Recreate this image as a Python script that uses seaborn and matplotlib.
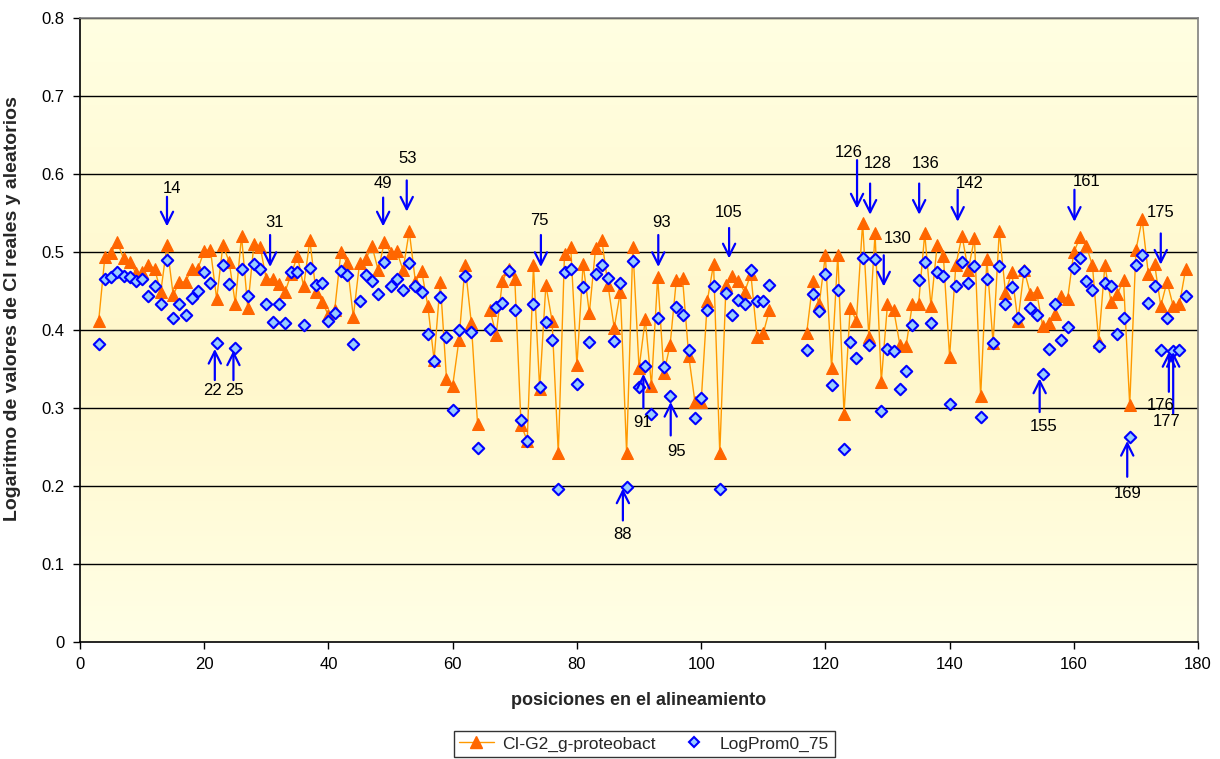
import numpy as np
import pandas as pd
import matplotlib
matplotlib.use("Agg")
import matplotlib.pyplot as plt
from matplotlib.lines import Line2D
from matplotlib.colors import LinearSegmentedColormap
import seaborn as sns

# ---------------- data ----------------
positions = [*range(3, 65), *range(66, 112), *range(117, 179)]

ci_g2 = [
    0.412, 0.494, 0.499, 0.513, 0.492, 0.488, 0.473, 0.474, 0.484, 0.479,  # 3-12
    0.449, 0.509, 0.445, 0.462, 0.462, 0.479, 0.479, 0.502, 0.503, 0.440,  # 13-22
    0.509, 0.488, 0.434, 0.521, 0.429, 0.511, 0.507, 0.465, 0.466, 0.459,  # 23-32
    0.449, 0.472, 0.495, 0.456, 0.515, 0.449, 0.436, 0.419, 0.426, 0.500,  # 33-42
    0.486, 0.417, 0.486, 0.491, 0.508, 0.477, 0.513, 0.499, 0.501, 0.477,  # 43-52
    0.527, 0.462, 0.476, 0.431, 0.362, 0.462, 0.338, 0.329, 0.387, 0.483,  # 53-62
    0.409, 0.280,                                                          # 63-64
    0.426, 0.394, 0.463, 0.479, 0.465, 0.279, 0.258, 0.483, 0.325, 0.458,  # 66-75
    0.412, 0.242, 0.498, 0.507, 0.355, 0.485, 0.422, 0.505, 0.516, 0.458,  # 76-85
    0.403, 0.449, 0.242, 0.507, 0.351, 0.414, 0.329, 0.468, 0.345, 0.381,  # 86-95
    0.464, 0.467, 0.367, 0.308, 0.308, 0.438, 0.485, 0.242, 0.458, 0.470,  # 96-105
    0.463, 0.449, 0.472, 0.391, 0.396, 0.426,                              # 106-111
    0.397, 0.463, 0.433, 0.496, 0.351, 0.497, 0.293, 0.429, 0.412, 0.538,  # 117-126
    0.391, 0.524, 0.334, 0.433, 0.426, 0.381, 0.380, 0.433, 0.433, 0.524,  # 127-136
    0.431, 0.509, 0.495, 0.366, 0.483, 0.521, 0.477, 0.518, 0.315, 0.491,  # 137-146
    0.383, 0.527, 0.448, 0.474, 0.412, 0.477, 0.447, 0.449, 0.405, 0.409,  # 147-156
    0.421, 0.444, 0.440, 0.500, 0.519, 0.508, 0.483, 0.385, 0.483, 0.436,  # 157-166
    0.446, 0.464, 0.304, 0.503, 0.542, 0.472, 0.485, 0.431, 0.462, 0.431,  # 167-176
    0.433, 0.478,                                                          # 177-178
]

log_prom = [
    0.382, 0.466, 0.468, 0.475, 0.470, 0.468, 0.463, 0.465, 0.444, 0.456,  # 3-12
    0.434, 0.490, 0.415, 0.433, 0.420, 0.441, 0.450, 0.474, 0.460, 0.383,  # 13-22
    0.484, 0.459, 0.377, 0.479, 0.444, 0.485, 0.479, 0.433, 0.410, 0.433,  # 23-32
    0.409, 0.475, 0.474, 0.407, 0.480, 0.458, 0.461, 0.412, 0.422, 0.476,  # 33-42
    0.471, 0.382, 0.438, 0.471, 0.463, 0.447, 0.488, 0.456, 0.465, 0.452,  # 43-52
    0.486, 0.456, 0.449, 0.395, 0.361, 0.442, 0.391, 0.298, 0.400, 0.470,  # 53-62
    0.398, 0.249,                                                          # 63-64
    0.402, 0.430, 0.435, 0.476, 0.426, 0.285, 0.258, 0.433, 0.327, 0.410,  # 66-75
    0.388, 0.196, 0.475, 0.479, 0.331, 0.455, 0.385, 0.472, 0.484, 0.467,  # 76-85
    0.386, 0.460, 0.199, 0.489, 0.327, 0.354, 0.293, 0.415, 0.353, 0.316,  # 86-95
    0.430, 0.419, 0.374, 0.288, 0.313, 0.426, 0.457, 0.196, 0.448, 0.420,  # 96-105
    0.439, 0.433, 0.477, 0.437, 0.437, 0.458,                              # 106-111
    0.374, 0.447, 0.425, 0.472, 0.330, 0.452, 0.247, 0.385, 0.364, 0.493,  # 117-126
    0.381, 0.491, 0.296, 0.376, 0.373, 0.325, 0.347, 0.406, 0.464, 0.488,  # 127-136
    0.409, 0.474, 0.470, 0.305, 0.456, 0.488, 0.461, 0.482, 0.289, 0.466,  # 137-146
    0.384, 0.482, 0.433, 0.455, 0.415, 0.476, 0.429, 0.420, 0.344, 0.376,  # 147-156
    0.433, 0.387, 0.404, 0.480, 0.492, 0.463, 0.451, 0.380, 0.461, 0.456,  # 157-166
    0.395, 0.415, 0.263, 0.484, 0.497, 0.435, 0.456, 0.374, 0.415, 0.373,  # 167-176
    0.374, 0.444,                                                          # 177-178
]

series_names = ["CI-G2_g-proteobact", "LogProm0_75"]

# annotations: label, arrow x, tail y, head y, text x, text y
ann_labels = ["14", "31", "49", "53", "75", "93", "105", "126", "128", "130",
              "136", "142", "161", "175",
              "22", "25", "88", "91", "95", "155", "169", "176", "177"]
ann_arrow_x = [14.0, 30.6, 48.8, 52.6, 74.2, 93.1, 104.5, 125.1, 127.2, 129.4,
               135.1, 141.3, 160.1, 174.0,
               21.7, 24.7, 87.4, 90.7, 95.1, 154.5, 168.6, 175.3, 176.0]
ann_tail_y = [0.571, 0.522, 0.570, 0.592, 0.522, 0.522, 0.531, 0.618, 0.588, 0.496,
              0.588, 0.580, 0.580, 0.524,
              0.336, 0.336, 0.156, 0.300, 0.265, 0.295, 0.212, 0.321, 0.293]
ann_head_y = [0.533, 0.481, 0.533, 0.552, 0.481, 0.481, 0.492, 0.556, 0.548, 0.456,
              0.548, 0.539, 0.539, 0.484,
              0.376, 0.374, 0.197, 0.344, 0.308, 0.338, 0.258, 0.372, 0.372]
ann_text_x = [14.8, 31.4, 48.8, 52.8, 73.9, 93.6, 104.5, 123.7, 128.5, 131.7,
              136.1, 143.2, 162.0, 174.0,
              21.3, 24.8, 87.4, 90.5, 96.1, 155.1, 168.6, 173.9, 175.0]
ann_text_y = [0.582, 0.538, 0.588, 0.620, 0.541, 0.538, 0.551, 0.628, 0.614, 0.517,
              0.614, 0.588, 0.590, 0.551,
              0.323, 0.323, 0.138, 0.282, 0.244, 0.276, 0.190, 0.304, 0.283]

# ---------------- frame ----------------
pos_arr = np.array(positions)
seg = np.concatenate([[0], np.cumsum(np.diff(pos_arr) > 1)])
df = pd.DataFrame({"pos": positions, "ci": ci_g2, "lp": log_prom, "seg": seg})

sns.set_style("ticks")
plt.rcParams["font.family"] = ["Liberation Sans", "DejaVu Sans"]

fig = plt.figure(figsize=(12.2, 7.59), dpi=100)
ax = fig.add_axes([0.0656, 0.154, 0.9164, 0.822])

# background gradient
cmap = LinearSegmentedColormap.from_list(
    "bg", [(0.0, "#FFFFE6"), (0.45, "#FFF7CA"), (1.0, "#FFFFE2")])
grad = np.linspace(0, 1, 256).reshape(-1, 1)
ax.imshow(grad, extent=[0, 180, 0, 0.8], aspect="auto", cmap=cmap,
          origin="lower", zorder=0)

for yv in np.arange(0.1, 0.81, 0.1):
    ax.axhline(yv, color="black", lw=1.0, zorder=1)

sns.lineplot(data=df, x="pos", y="ci", units="seg", estimator=None, ax=ax,
             color="#FF9900", lw=1.0, marker="^", markersize=8.5,
             markerfacecolor="#FF6600", markeredgecolor="#FF6600",
             legend=False, zorder=3, sort=False)
sns.scatterplot(data=df, x="pos", y="lp", ax=ax, marker="D", s=34,
                color="#99CCFF", edgecolor="#0000FF", linewidth=1.5,
                legend=False, zorder=4)

for lab, ax_x, ty, hy, tx, tyy in zip(ann_labels, ann_arrow_x, ann_tail_y,
                                      ann_head_y, ann_text_x, ann_text_y):
    ax.annotate("", xy=(ax_x, hy), xytext=(ax_x, ty),
                arrowprops=dict(arrowstyle="->", color="#0000FF", lw=1.6,
                                mutation_scale=22, shrinkA=0, shrinkB=0),
                zorder=5)
    ax.text(tx, tyy, lab, ha="center", va="center", fontsize=12,
            color="black", zorder=6)

ax.set_xlim(0, 180)
ax.set_ylim(0, 0.8)
ax.set_xticks(np.arange(0, 181, 20))
ax.set_yticks(np.arange(0, 0.81, 0.1))
ax.set_yticklabels(["0"] + [f"{v:.1f}" for v in np.arange(0.1, 0.81, 0.1)])
ax.tick_params(axis="both", direction="out", length=5, width=1,
               labelsize=12, colors="black", pad=6)
ax.set_xlabel("posiciones en el alineamiento", fontsize=13,
              fontweight="bold", labelpad=14)
ax.set_ylabel("Logaritmo de valores de CI reales y aleatorios", fontsize=14,
              fontweight="bold")
ax.yaxis.set_label_coords(-0.053, 0.535)
for side in ["left", "bottom"]:
    ax.spines[side].set_color("black")
    ax.spines[side].set_linewidth(1.2)
for side in ["top", "right"]:
    ax.spines[side].set_visible(True)
    ax.spines[side].set_color("#808080")
    ax.spines[side].set_linewidth(1.2)

handles = [
    Line2D([0], [0], color="#FF9900", lw=1.0, marker="^", markersize=8.5,
           markerfacecolor="#FF6600", markeredgecolor="#FF6600"),
    Line2D([0], [0], color="none", marker="D", markersize=5.5,
           markerfacecolor="#99CCFF", markeredgecolor="#0000FF",
           markeredgewidth=1.5),
]
leg = fig.legend(handles, series_names, loc="center",
                 bbox_to_anchor=(0.528, 0.0198), ncol=2, fontsize=12.5,
                 frameon=True, fancybox=False, edgecolor="black",
                 borderpad=0.3, handlelength=2.0, columnspacing=1.2,
                 handletextpad=0.5)
leg.get_frame().set_linewidth(1.0)

fig.savefig("out.png", dpi=100)
